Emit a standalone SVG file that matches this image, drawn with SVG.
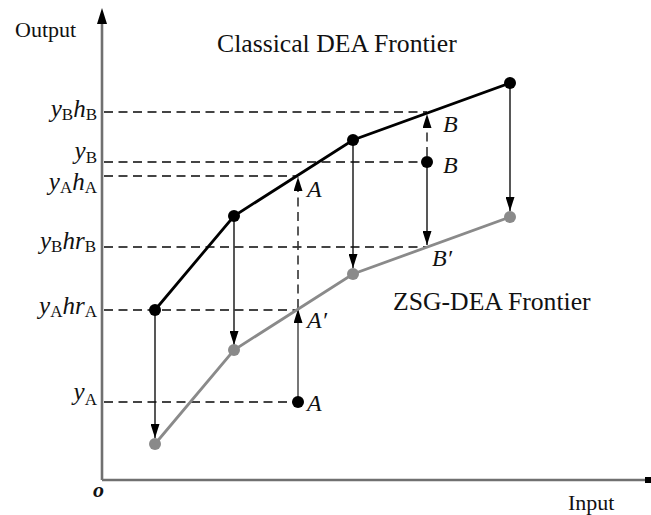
<svg xmlns="http://www.w3.org/2000/svg" width="651" height="515" viewBox="0 0 651 515">
<defs>
<style>
.t{font-family:"Liberation Serif","Times New Roman",serif;fill:#111}
.i{font-style:italic}
.axis{stroke:#707070;stroke-width:2.6;fill:none}
.dash{stroke:#444;stroke-width:1.8;stroke-dasharray:9 5.5;fill:none}
.cf{stroke:#000;stroke-width:2.8;fill:none}
.zf{stroke:#8a8a8a;stroke-width:2.8;fill:none}
.arr{stroke:#111;stroke-width:1.4;fill:none;marker-end:url(#ah)}
.darr{stroke:#333;stroke-width:1.6;stroke-dasharray:9 5.5;fill:none;marker-end:url(#ah)}
.garr{stroke:#555;stroke-width:1.6;fill:none;marker-end:url(#ah)}
.bp{fill:#000}
.gp{fill:#8a8a8a}
</style>
<marker id="ah" markerUnits="userSpaceOnUse" markerWidth="15" markerHeight="9" refX="14" refY="4.5" orient="auto">
<path d="M0,0 L14,4.5 L0,9 Z" fill="#000"/>
</marker>
</defs>
<rect width="651" height="515" fill="#fff"/>

<g id="axes">
<line class="axis" x1="102" y1="22" x2="102" y2="480"/>
<line class="axis" x1="102" y1="480" x2="646" y2="480"/>
<path d="M102,8 L97,24 L107,24 Z" fill="#000"/>
<rect x="645" y="477" width="6" height="6" fill="#000"/>
<text class="t" x="15" y="37" font-size="22">Output</text>
<text class="t" x="568" y="510" font-size="22">Input</text>
<text class="t i" x="93" y="497" font-size="22" font-weight="bold">o</text>
</g>

<g id="y-labels" class="t" font-size="25" text-anchor="end">
<text x="97" y="117"><tspan class="i">y</tspan><tspan font-size="17" dy="3">B</tspan><tspan class="i" dy="-3">h</tspan><tspan font-size="17" dy="3">B</tspan></text>
<text x="97" y="159"><tspan class="i">y</tspan><tspan font-size="17" dy="4">B</tspan></text>
<text x="97" y="190"><tspan class="i">y</tspan><tspan font-size="17" dy="3">A</tspan><tspan class="i" dy="-3">h</tspan><tspan font-size="17" dy="3">A</tspan></text>
<text x="96" y="249"><tspan class="i">y</tspan><tspan font-size="17" dy="3">B</tspan><tspan class="i" dy="-3">hr</tspan><tspan font-size="17" dy="3">B</tspan></text>
<text x="97" y="314"><tspan class="i">y</tspan><tspan font-size="17" dy="3">A</tspan><tspan class="i" dy="-3">hr</tspan><tspan font-size="17" dy="3">A</tspan></text>
<text x="97" y="400"><tspan class="i">y</tspan><tspan font-size="17" dy="5">A</tspan></text>
</g>

<g id="connectors">
<line class="dash" x1="104" y1="112" x2="427" y2="112"/>
<line class="dash" x1="104" y1="162" x2="427" y2="162"/>
<line class="dash" x1="104" y1="176" x2="298" y2="176"/>
<line class="dash" x1="104" y1="247" x2="427" y2="247"/>
<line class="dash" x1="104" y1="310" x2="298" y2="310"/>
<line class="dash" x1="104" y1="402" x2="298" y2="402"/>
<line class="arr" x1="155" y1="310" x2="155" y2="438"/>
<line class="arr" x1="234" y1="216" x2="234" y2="345"/>
<line class="arr" x1="353" y1="140" x2="353" y2="268"/>
<line class="arr" x1="510" y1="83" x2="510" y2="211"/>
<line class="arr" x1="427" y1="162" x2="427" y2="245"/>
<line class="darr" x1="427" y1="156" x2="427" y2="114"/>
<line class="darr" x1="298" y1="308" x2="298" y2="177"/>
<line class="garr" x1="298" y1="402" x2="298" y2="309"/>
</g>

<g id="classical-frontier">
<polyline class="cf" points="155,310 234,216 353,140 510,83"/>
<circle class="bp" cx="155" cy="310" r="6"/>
<circle class="bp" cx="234" cy="216" r="6"/>
<circle class="bp" cx="353" cy="140" r="6"/>
<circle class="bp" cx="510" cy="83" r="6"/>
<text class="t" x="217" y="52" font-size="25.7">Classical DEA Frontier</text>
</g>

<g id="zsg-frontier">
<polyline class="zf" points="155,444 234,350 353,274 510,217"/>
<circle class="gp" cx="155" cy="444" r="6"/>
<circle class="gp" cx="234" cy="350" r="6"/>
<circle class="gp" cx="353" cy="274" r="6"/>
<circle class="gp" cx="510" cy="217" r="6"/>
<text class="t" x="393" y="310" font-size="25.7">ZSG-DEA Frontier</text>
</g>

<g id="point-A">
<circle class="bp" cx="298" cy="402" r="6"/>
<text class="t i" x="307" y="411" font-size="24">A</text>
<text class="t i" x="307" y="328" font-size="24">A′</text>
<text class="t i" x="307" y="197" font-size="24">A</text>
</g>

<g id="point-B">
<circle class="bp" cx="427" cy="162" r="6"/>
<text class="t i" x="443" y="173" font-size="24">B</text>
<text class="t i" x="443" y="132" font-size="24">B</text>
<text class="t i" x="432" y="266" font-size="24">B′</text>
</g>
</svg>
